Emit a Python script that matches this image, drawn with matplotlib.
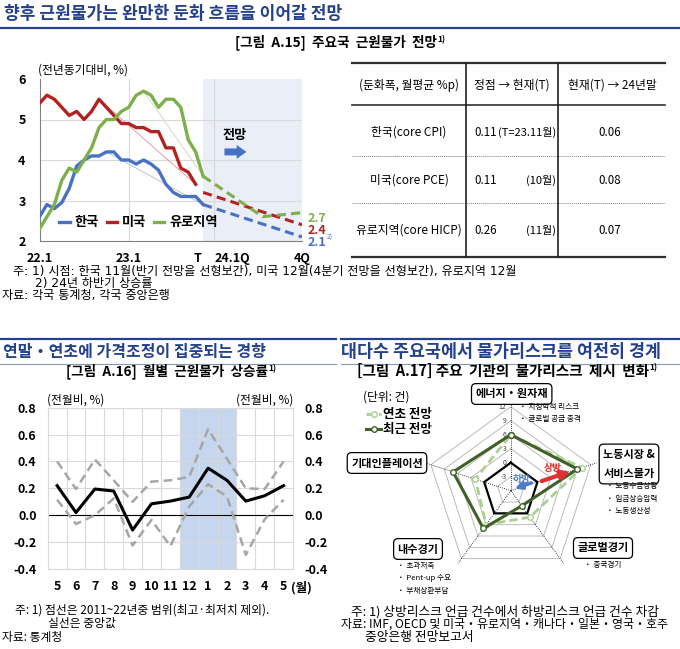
import matplotlib
matplotlib.use("Agg")
import matplotlib.pyplot as plt
import numpy as np
from matplotlib.ticker import FormatStrFormatter

plt.rcParams['font.family'] = ['Noto Sans CJK KR', 'DejaVu Sans']
plt.rcParams['axes.unicode_minus'] = False

W, H = 680, 649
NAVY = "#23418C"
C_KR, C_US, C_EU = "#4A72C4", "#B22222", "#7DAF4B"
WIDE = ['DejaVu Sans', 'Noto Sans CJK KR']

# ---- [그림 A.15] 주요국 근원물가 (22.1 = 0, 월 단위)
kr = [2.6, 2.9, 2.8, 2.95, 3.3, 3.85, 4.0, 4.1, 4.1, 4.2, 4.2, 4.0, 4.0, 3.9, 4.0, 3.9,
      3.75, 3.4, 3.2, 3.1, 3.1, 3.1, 2.9]
us = [5.4, 5.6, 5.5, 5.3, 5.1, 5.2, 5.0, 5.2, 5.5, 5.3, 5.1, 4.9, 4.9, 4.8, 4.8, 4.7,
      4.7, 4.3, 4.3, 3.8, 3.7, 3.4]
eu = [2.3, 2.6, 2.9, 3.5, 3.8, 3.7, 4.0, 4.3, 4.8, 5.0, 5.0, 5.2, 5.3, 5.6, 5.7, 5.6,
      5.3, 5.5, 5.5, 5.3, 4.5, 4.2, 3.6]
peak_idx = [9, 8, 14]
fx_kr, fv_kr = [22, 35.3], [2.9, 2.1]
fx_us, fv_us = [22, 35.3], [3.2, 2.4]
fx_eu, fv_eu = [22, 30, 35.3], [3.6, 2.6, 2.7]
xt15 = [0, 12, 21.3, 25.9, 35.3]
xl15 = ["22.1", "23.1", "T", "24.1Q", "4Q"]

# ---- table
t_rows = ["한국(core CPI)", "미국(core PCE)", "유로지역(core HICP)"]
t_peak = ["0.11", "0.11", "0.26"]
t_when = ["(T=23.11월)", "(10월)", "(11월)"]
t_end = ["0.06", "0.08", "0.07"]

# ---- [그림 A.16] 월별 근원물가 상승률
months = ["5", "6", "7", "8", "9", "10", "11", "12", "1", "2", "3", "4", "5"]
median = [0.22, 0.02, 0.195, 0.18, -0.11, 0.085, 0.105, 0.135, 0.35, 0.26, 0.105, 0.145, 0.22]
upper = [0.40, 0.195, 0.415, 0.26, 0.10, 0.25, 0.26, 0.285, 0.64, 0.42, 0.20, 0.195, 0.40]
lower = [0.115, -0.065, 0.0, 0.125, -0.225, -0.035, -0.23, 0.065, 0.23, 0.14, -0.295, -0.03, 0.115]

# ---- [그림 A.17] 물가리스크 (상방-하방 건수)
cats = ["에너지・원자재", "노동시장 &\n서비스물가", "글로벌경기", "내수경기", "기대인플레이션"]
early = [6, 10, 1, 3, 2]
recent = [6, 9, -2, 4, 7]
rings = [-3, 0, 3, 6, 9, 12]

fig = plt.figure(figsize=(W / 100, H / 100), dpi=100)


def box(l, t, r, b):
    return [l / W, 1 - b / H, (r - l) / W, (b - t) / H]


# ================= A.15 line chart
ax1 = fig.add_axes(box(39.5, 79, 302, 241))
ax1.axvspan(fx_kr[0], fx_kr[-1], color="#E9EEF7", lw=0, zorder=0)
for y in (3, 4, 5):
    ax1.axhline(y, color="#D9D9D9", lw=0.8, zorder=1)
for x in (12, 23.5):
    ax1.axvline(x, color="#D9D9D9", lw=0.8, zorder=1)
thin = ["#B8B8C8", "#E09090", "#C8D8B8"]
for s, p, c in zip([kr, us, eu], peak_idx, thin):
    ax1.plot([p, len(s) - 1], [s[p], s[-1]], color=c, lw=0.6, zorder=2)
l_kr, = ax1.plot(range(len(kr)), kr, color=C_KR, lw=2.4, label="한국", zorder=3)
l_us, = ax1.plot(range(len(us)), us, color=C_US, lw=2.4, label="미국", zorder=3)
l_eu, = ax1.plot(range(len(eu)), eu, color=C_EU, lw=2.4, label="유로지역", zorder=3)
dash = (0, (3, 1.7))
ax1.plot(fx_kr, fv_kr, color=C_KR, lw=2.2, ls=dash, zorder=3)
ax1.plot(fx_us, fv_us, color=C_US, lw=2.2, ls=dash, zorder=3)
ax1.plot(fx_eu, fv_eu, color=C_EU, lw=2.2, ls=dash, zorder=3)
ax1.set_xlim(0, fx_kr[-1])
ax1.set_ylim(2, 6)
ax1.set_xticks(xt15, xl15)
ax1.set_yticks(range(2, 7))
ax1.tick_params(axis="x", length=0, labelsize=9, pad=8)
ax1.tick_params(axis="y", length=0, labelsize=9, pad=10)
for lb in ax1.get_xticklabels() + ax1.get_yticklabels():
    lb.set_fontweight("bold")
for sp in ("top", "right"):
    ax1.spines[sp].set_visible(False)
for sp in ("left", "bottom"):
    ax1.spines[sp].set_color("#808080")
    ax1.spines[sp].set_linewidth(0.8)
ax1.legend(handles=[l_kr, l_us, l_eu], loc="center left", bbox_to_anchor=(0.03, 0.115),
           ncol=3, frameon=False, handlelength=0.8, handletextpad=0.35, columnspacing=0.6,
           prop={"weight": "bold", "size": 9.5})
for v, c in zip([fv_eu[-1], fv_us[-1], fv_kr[-1]], [C_EU, C_US, C_KR]):
    t = ax1.annotate(f"{v:.1f}", (fx_kr[-1], v), xytext=(4, -4), textcoords="offset points",
                     ha="left", va="center", fontsize=9, fontweight="bold", color=c,
                     annotation_clip=False)
ax1.annotate("2)", xy=(1, 0.85), xycoords=t, fontsize=5, color=C_KR, va="center")
ax1.text(26.2, 4.62, "전망", ha="center", va="center", fontsize=9.5, fontweight="bold")
ax1.annotate("", xy=(28.2, 4.2), xytext=(24.5, 4.2),
             arrowprops=dict(arrowstyle="simple,head_width=1.0,head_length=0.7,tail_width=0.5",
                             color="#4472C4", lw=0))

# ================= A.16 monthly chart
ax2 = fig.add_axes(box(47.7, 407.7, 293, 569))
xs = np.arange(len(months))
ax2.axvspan(months.index("12") - 0.5, months.index("2", 8) + 0.5, color="#C6D6EE", lw=0, zorder=0)
ax2.set_xlim(-0.5, len(months) - 0.5)
ax2.set_ylim(-0.4, 0.8)
ax2.set_xticks(xs, months)
ax2.set_xticks(xs[:-1] + 0.5, minor=True)
ax2.set_yticks(np.arange(-0.4, 0.81, 0.2))
ax2.grid(which="minor", axis="x", color="#D9D9D9", lw=0.8)
ax2.grid(which="major", axis="y", color="#D9D9D9", lw=0.8)
ax2.set_axisbelow(True)
ax2.axhline(0, color="black", lw=0.8, zorder=1)
ax2.plot(xs, upper, color="#A6A6A6", lw=1.8, ls=(0, (3.5, 2)), zorder=2)
ax2.plot(xs, lower, color="#A6A6A6", lw=1.8, ls=(0, (3.5, 2)), zorder=2)
ax2.plot(xs, median, color="black", lw=2.2, zorder=3)
ax2.yaxis.set_major_formatter(FormatStrFormatter("%.1f"))
ax2.tick_params(which="both", length=0)
ax2.tick_params(axis="x", labelsize=9, pad=8)
ax2.tick_params(axis="y", labelsize=9, pad=8)
for sp in ax2.spines.values():
    sp.set_color("#D9D9D9")
ax2r = ax2.twinx()
ax2r.set_ylim(ax2.get_ylim())
ax2r.set_yticks(ax2.get_yticks())
ax2r.yaxis.set_major_formatter(FormatStrFormatter("%.1f"))
ax2r.tick_params(length=0, labelsize=9, pad=8)
for sp in ax2r.spines.values():
    sp.set_visible(False)
for lb in ax2.get_xticklabels() + ax2.get_yticklabels() + ax2r.get_yticklabels():
    lb.set_fontweight("bold")

# ================= A.17 radar
cx, cy, R = 510.8, 490.7, 84
axr = fig.add_axes(box(cx - R, cy - R, cx + R, cy + R), projection="polar")
axr.set_theta_offset(np.pi / 2)
axr.set_theta_direction(-1)
axr.set_ylim(rings[0] - 3, rings[-1])
axr.grid(False)
axr.set_xticks([])
axr.set_yticks([])
axr.spines["polar"].set_visible(False)
axr.patch.set_alpha(0)
th = np.linspace(0, 2 * np.pi, len(cats), endpoint=False)
thc = np.append(th, th[0])
for v in rings:
    axr.plot(thc, [v] * len(thc), color="black" if v == 0 else "#B0B0B0",
             lw=1.6 if v == 0 else 0.6, zorder=1)
    axr.annotate(str(v), (0, v), xytext=(-3, 0), textcoords="offset points",
                 ha="right", va="center", fontsize=5, color="#404040")
for t in th:
    axr.plot([t, t], [rings[0] - 3, rings[-1] + 1.3], color="black", lw=0.6,
             ls=(0, (1, 1.5)), clip_on=False, zorder=1)
axr.plot(thc, np.append(early, early[0]), color="#A9D18E", lw=2, ls=(0, (3, 1.5)),
         marker="o", ms=4, mfc="white", mec="#A9D18E", label="연초 전망", zorder=3)
axr.plot(thc, np.append(recent, recent[0]), color="#3F6128", lw=2.2,
         marker="o", ms=4, mfc="white", mec="#3F6128", label="최근 전망", zorder=4)
axr.legend(loc="upper left", bbox_to_anchor=(360 / W, 1 - 402 / H), bbox_transform=fig.transFigure,
           frameon=False, handlelength=1.2, handletextpad=0.15, labelspacing=0.15,
           borderpad=0, prop={"weight": "bold", "size": 9})

# ================= overlay (text, table, headings)
ov = fig.add_axes([0, 0, 1, 1], zorder=10)
ov.set_xlim(0, W)
ov.set_ylim(H, 0)
ov.axis("off")
ov.patch.set_alpha(0)


def sup(txt, s="1)", size=6, color="black"):
    ov.annotate(s, xy=(1, 1), xycoords=txt, xytext=(0.5, -0.5), textcoords="offset points",
                ha="left", va="top", fontsize=size, fontweight="bold", color=color)


# headings
ov.text(4, 14, "향후 근원물가는 완만한 둔화 흐름을 이어갈 전망", fontsize=12.3, fontweight="bold",
        color=NAVY, va="center")
ov.plot([0, W], [28, 28], color=NAVY, lw=1.6)
ov.plot([0, 336], [339, 339], color=NAVY, lw=1.6)
ov.plot([341, W], [339, 339], color=NAVY, lw=1.6)
ov.plot([0, 336], [364, 364], color="#8896B8", lw=0.8)
ov.plot([341, W], [364, 364], color="#8896B8", lw=0.8)
ov.text(3, 352, "연말・연초에 가격조정이 집중되는 경향", fontsize=11.5, fontweight="bold",
        color=NAVY, va="center")
ov.text(341, 352, "대다수 주요국에서 물가리스크를 여전히 경계", fontsize=12.5, fontweight="bold",
        color=NAVY, va="center")

t = ov.text(336, 42, "[그림  A.15]  주요국  근원물가  전망", fontsize=9.8, fontweight="bold",
            ha="center", va="center")
sup(t)
t = ov.text(167, 371, "[그림  A.16]  월별  근원물가  상승률", fontsize=9.8, fontweight="bold",
            ha="center", va="center")
sup(t)
t = ov.text(503, 371, "[그림  A.17] 주요  기관의  물가리스크  제시  변화", fontsize=10.5,
            fontweight="bold", ha="center", va="center")
sup(t)

# A.15 labels
ov.text(38, 70, "(전년동기대비, %)", fontsize=8.5, fontweight="medium", va="center")

# table
tx0, tx1, vx1, vx2 = 352, 665, 466, 558
ov.plot([tx0, tx1], [63, 63], color="#303030", lw=1.6)
ov.plot([tx0, tx1], [105, 105], color="#303030", lw=1.2)
for yy in (156, 203):
    ov.plot([tx0, tx1], [yy, yy], color="#808080", lw=0.7, ls=(0, (1, 1)))
ov.plot([tx0, tx1], [257, 257], color="#303030", lw=1.6)
for xx in (vx1, vx2):
    ov.plot([xx, xx], [63, 257], color="#202020", lw=1.2)
tf = dict(fontsize=8.5, va="center")
ov.text(409, 85, "(둔화폭, 월평균 %p)", ha="center", **tf)
ov.text(512, 85, "정점 → 현재(T)", ha="center", **tf)
ov.text(612, 85, "현재(T) → 24년말", ha="center", **tf)
for ry, a, b, c, d in zip([132, 180, 230], t_rows, t_peak, t_when, t_end):
    ov.text(409, ry, a, ha="center", **tf)
    ov.text(474, ry, b, ha="left", fontsize=8.3, va="center")
    ov.text(556, ry, c, ha="right", fontsize=8, va="center")
    ov.text(610, ry, d, ha="center", fontsize=8.3, va="center")

# notes A.15
nf = dict(fontsize=8.7, va="center", family=WIDE)
ov.text(13, 271, "주: 1) 시점: 한국 11월(반기 전망을 선형보간), 미국 12월(4분기 전망을 선형보간), 유로지역 12월", **nf)
ov.text(35, 283, "2) 24년 하반기 상승률", **nf)
ov.text(2, 295, "자료: 각국 통계청, 각국 중앙은행", **nf)

# A.16 labels
ov.text(47, 400, "(전월비, %)", fontsize=8.5, fontweight="medium", va="center")
ov.text(293, 400, "(전월비, %)", fontsize=8.5, fontweight="medium", va="center", ha="right")
ov.text(291, 588, "(월)", fontsize=9, fontweight="bold", va="center")
ov.text(15, 610, "주: 1) 점선은 2011~22년중 범위(최고·최저치 제외).", fontsize=8.5, va="center")
ov.text(48, 623, "실선은 중앙값", fontsize=8.5, va="center")
ov.text(2, 637, "자료: 통계청", fontsize=8.5, va="center")

# A.17 labels
ov.text(363, 397, "(단위: 건)", fontsize=8.5, fontweight="medium", va="center")
bx = dict(boxstyle="round,pad=0.35,rounding_size=0.4", fc="white", ec="black", lw=0.9)
lab_xy = [(511.7, 394), (629, 464), (603, 548), (418, 549), (387, 463)]
for (lx, ly), c in zip(lab_xy, cats):
    ov.text(lx, ly, c, fontsize=8, fontweight="bold", ha="center", va="center", bbox=bx,
            linespacing=1.6)
bullets = [
    (519, 407, ["지정학적 리스크", "글로벌 공급 충격"]),
    (606, 486, ["노동수급상황", "임금상승압력", "노동생산성"]),
    (584, 565, ["중국경기"]),
    (397, 566, ["초과저축", "Pent-up 수요", "부채상환부담"]),
]
for bxp, byp, items in bullets:
    for k, it in enumerate(items):
        ov.text(bxp, byp + k * 12.5, "・ " + it, fontsize=5.5, va="center")
ov.annotate("", xy=(573, 470.5), xytext=(539, 482),
            arrowprops=dict(arrowstyle="-|>,head_width=0.25,head_length=0.5", color="#E03030", lw=3))
ov.text(553, 468, "상방", fontsize=7, fontweight="bold", color="#E03030", ha="center", va="center")
ov.annotate("", xy=(512, 489.5), xytext=(534, 482),
            arrowprops=dict(arrowstyle="-|>,head_width=0.2,head_length=0.4", color="#4A7CC8", lw=2.5))
ov.text(522, 479, "하방", fontsize=7, fontweight="bold", color="#4A7CC8", ha="center", va="center")
ov.text(351, 612, "주: 1) 상방리스크 언급 건수에서 하방리스크 언급 건수 차감", fontsize=9.2, va="center")
ov.text(341, 624.5, "자료: IMF, OECD 및 미국・유로지역・캐나다・일본・영국・호주", fontsize=8.6, va="center")
ov.text(365, 637, "중앙은행 전망보고서", fontsize=9.2, va="center")

fig.savefig("out.png", dpi=100)
